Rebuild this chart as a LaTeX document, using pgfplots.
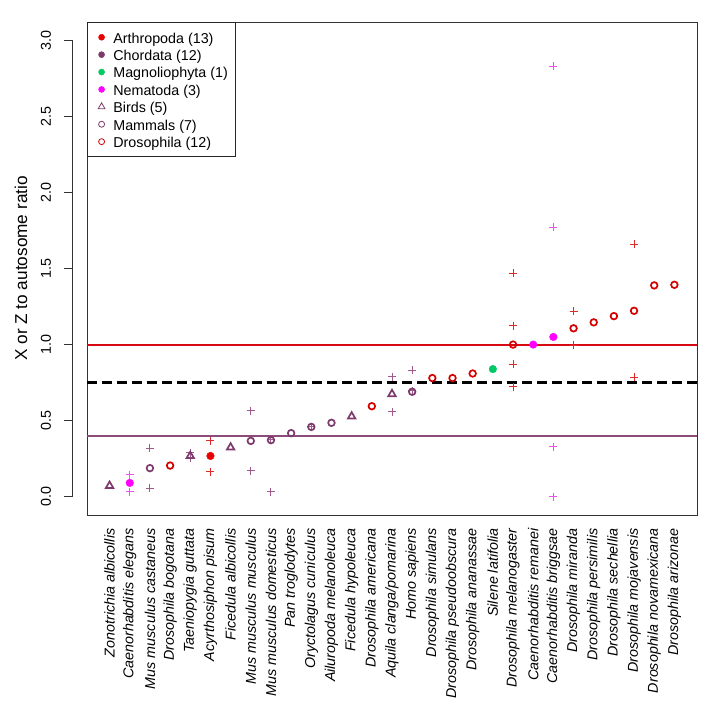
\documentclass[border=0pt]{standalone}
\usepackage{pgfplots}
\usepackage{pgfplotstable}
\pgfplotsset{compat=1.18}
\usepackage{fontspec}
\setmainfont{Liberation Sans}

\definecolor{artred}{RGB}{235,0,0}
\definecolor{drosred}{RGB}{215,0,0}
\definecolor{chordpur}{RGB}{125,58,108}
\definecolor{mag}{RGB}{255,0,255}
\definecolor{plantgreen}{RGB}{0,200,100}
\definecolor{redline}{RGB}{215,10,20}
\definecolor{purline}{RGB}{140,75,120}
\definecolor{crosspur}{RGB}{160,90,140}
\definecolor{crossred}{RGB}{225,40,40}
\definecolor{crossmag}{RGB}{240,80,240}

% Birds (Chordata)
\pgfplotstableread{
x y
1 0.072
5 0.268
7 0.324
13 0.528
15 0.675
}\birds
% Mammals (Chordata)
\pgfplotstableread{
x y
3 0.188
8 0.367
9 0.372
10 0.418
11 0.459
12 0.486
16 0.690
}\mammals
% Drosophila (Arthropoda)
\pgfplotstableread{
x y
4 0.205
14 0.595
17 0.780
18 0.780
19 0.810
21 1.000
24 1.107
25 1.146
26 1.187
27 1.222
28 1.389
29 1.393
}\dros
% Other Arthropoda
\pgfplotstableread{
x y
6 0.268
}\arthro
% Nematoda
\pgfplotstableread{
x y
2 0.091
22 1.000
23 1.050
}\nema
% Magnoliophyta
\pgfplotstableread{
x y
20 0.839
}\plant
% crosses
\pgfplotstableread{
x y
3 0.319
3 0.056
5 0.290
5 0.255
8 0.564
8 0.170
9 0.375
9 0.032
11 0.459
15 0.790
15 0.557
16 0.830
16 0.695
}\crosspurtab
\pgfplotstableread{
x y
6 0.368
6 0.163
21 1.468
21 1.124
21 0.870
21 0.722
24 1.218
24 0.997
27 1.660
27 0.784
}\crossredtab
\pgfplotstableread{
x y
2 0.143
2 0.034
23 2.830
23 1.770
23 0.330
23 0.000
}\crossmagtab

\begin{document}
\begin{tikzpicture}
\path[use as bounding box] (-87pt,-203pt) rectangle (631pt,515pt);
\begin{axis}[
  at={(0pt,0pt)}, anchor=south west,
  scale only axis, width=610pt, height=493pt,
  xmin=-0.12, xmax=30.12, ymin=-0.12, ymax=3.12,
  clip=false,
  axis line style={black!80, line width=0.9pt},
  xtick={1,2,3,4,5,6,7,8,9,10,11,12,13,14,15,16,17,18,19,20,21,22,23,24,25,26,27,28,29},
  xticklabels={Zonotrichia albicollis, Caenorhabditis elegans, Mus musculus castaneus, Drosophila bogotana, Taeniopygia guttata, Acyrthosiphon pisum, Ficedula albicollis, Mus musculus musculus, Mus musculus domesticus, Pan troglodytes, Oryctolagus cuniculus, Ailuropoda melanoleuca, Ficedula hypoleuca, Drosophila americana, Aquila clanga/pomarina, Homo sapiens, Drosophila simulans, Drosophila pseudoobscura, Drosophila ananassae, Silene latifolia, Drosophila melanogaster, Caenorhabditis remanei, Caenorhabditis briggsae, Drosophila miranda, Drosophila persimilis, Drosophila sechellia, Drosophila mojavensis, Drosophila novamexicana, Drosophila arizonae},
  xticklabel style={font=\fontsize{14.3}{14.3}\selectfont\itshape, yshift=-10pt, rotate=90, anchor=east},
  x tick style={draw=none},
  ytick={0,0.5,1,1.5,2,2.5,3},
  yticklabels={0.0,0.5,1.0,1.5,2.0,2.5,3.0},
  yticklabel style={font=\fontsize{14.3}{14.3}\selectfont, anchor=center, xshift=-41pt, rotate=90},
  y tick style={draw=none},
  legend image code/.code={\path (0pt,0pt) (17pt,0pt); \draw[#1] plot coordinates {(8.5pt,0pt)};},
  legend style={
    at={(0,1)}, anchor=north west,
    draw=black!85, line width=0.9pt,
    font=\fontsize{14.3}{14.3}\selectfont,
    inner xsep=5.2pt, inner ysep=6.1pt,
    row sep=0pt,
    nodes={inner xsep=2.8pt, inner ysep=1.5pt, text height=13pt, text depth=1.4pt, anchor=west},
  },
  legend cell align=left,
]
% offset y axis (R style)
\draw[black!80, line width=0.9pt] ([xshift=-15pt]axis cs:-0.12,0) -- ([xshift=-15pt]axis cs:-0.12,3);
\pgfplotsinvokeforeach{0,0.5,1,1.5,2,2.5,3}{
  \draw[black!80, line width=0.9pt] ([xshift=-15pt]axis cs:-0.12,#1) -- ++(-8pt,0pt);
}
\node[rotate=90, font=\fontsize{17.2}{17.2}\selectfont] at ([xshift=-66pt]axis cs:-0.12,1.5) {X or Z to autosome ratio};

% reference lines
\draw[redline, line width=2pt] (axis cs:-0.12,1) -- (axis cs:30.12,1);
\draw[purline, line width=2pt] (axis cs:-0.12,0.4) -- (axis cs:30.12,0.4);
\draw[black, line width=2.6pt, dash pattern=on 10pt off 5pt] (axis cs:-0.12,0.75) -- (axis cs:30.12,0.75);

% crosses
\addplot[forget plot, only marks, mark=+, mark size=4pt, color=crosspur, mark options={line width=1pt}] table {\crosspurtab};
\addplot[forget plot, only marks, mark=+, mark size=4pt, color=crossred, mark options={line width=1pt}] table {\crossredtab};
\addplot[forget plot, only marks, mark=+, mark size=4pt, color=crossmag, mark options={line width=1pt}] table {\crossmagtab};

% main points
\addplot[forget plot, only marks, mark=triangle, mark size=4.3pt, color=chordpur, mark options={line width=1.7pt}] table {\birds};
\addplot[forget plot, only marks, mark=o, mark size=3.3pt, color=chordpur, mark options={line width=1.7pt}] table {\mammals};
\addplot[forget plot, only marks, mark=o, mark size=3.3pt, color=drosred, mark options={line width=1.7pt}] table {\dros};
\addplot[forget plot, only marks, mark=*, mark size=3.8pt, color=artred, mark options={draw=artred, fill=artred}] table {\arthro};
\addplot[forget plot, only marks, mark=*, mark size=3.8pt, color=mag, mark options={draw=mag, fill=mag}] table {\nema};
\addplot[forget plot, only marks, mark=*, mark size=3.8pt, color=plantgreen, mark options={draw=plantgreen, fill=plantgreen}] table {\plant};

% legend
\addlegendimage{only marks, mark=*, mark size=3pt, color=artred, mark options={line width=0.5pt}}
\addlegendentry{Arthropoda (13)}
\addlegendimage{only marks, mark=*, mark size=3pt, color=chordpur, mark options={line width=0.5pt}}
\addlegendentry{Chordata (12)}
\addlegendimage{only marks, mark=*, mark size=3pt, color=plantgreen, mark options={line width=0.5pt}}
\addlegendentry{Magnoliophyta (1)}
\addlegendimage{only marks, mark=*, mark size=3pt, color=mag, mark options={line width=0.5pt}}
\addlegendentry{Nematoda (3)}
\addlegendimage{only marks, mark=triangle, mark size=4pt, color=chordpur, mark options={line width=0.8pt}}
\addlegendentry{Birds (5)}
\addlegendimage{only marks, mark=o, mark size=3pt, color=chordpur, mark options={line width=0.8pt}}
\addlegendentry{Mammals (7)}
\addlegendimage{only marks, mark=o, mark size=3pt, color=drosred, mark options={line width=0.8pt}}
\addlegendentry{Drosophila (12)}
\end{axis}
\end{tikzpicture}
\end{document}
